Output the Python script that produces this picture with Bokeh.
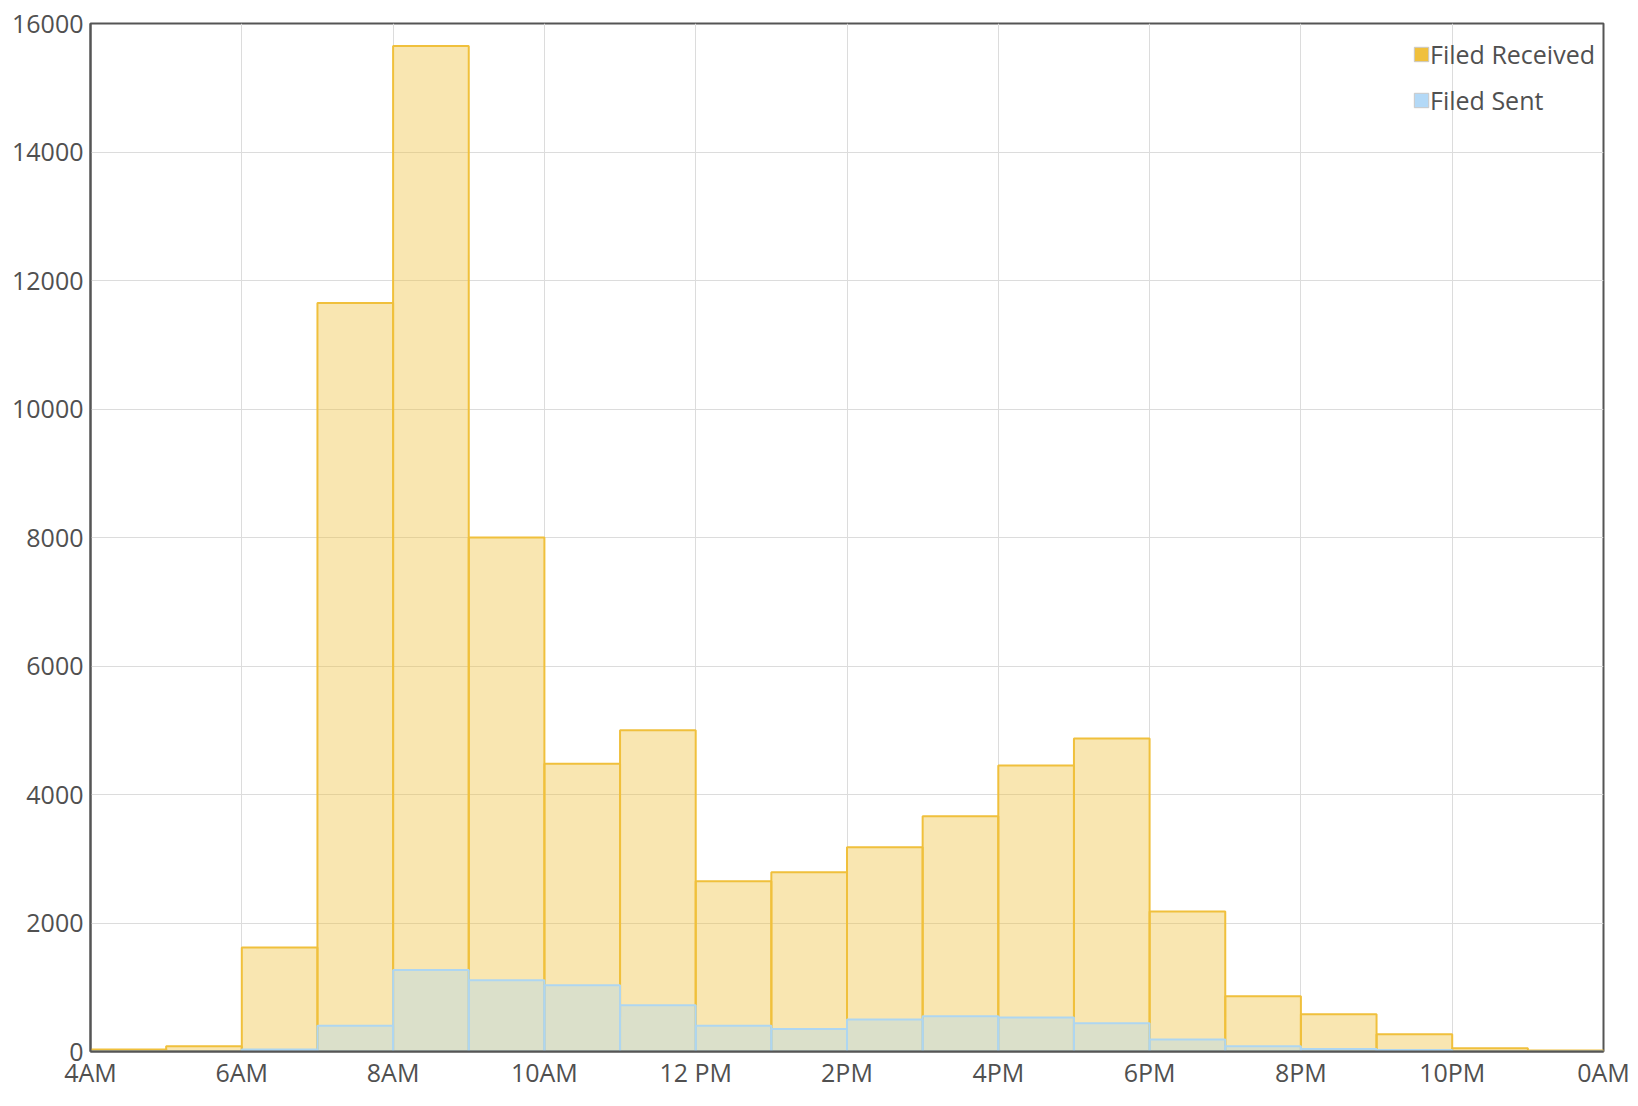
from bokeh.plotting import figure
from bokeh.models import ColumnDataSource, FixedTicker, Legend, LegendItem, Range1d
from bokeh.embed import file_html
from bokeh.resources import INLINE

# hour-of-day bins (start hour, 4 = 4AM ... 23 = 11PM)
hours = [4, 5, 6, 7, 8, 9, 10, 11, 12, 13, 14, 15, 16, 17, 18, 19, 20, 21, 22, 23]
filed_received = [30, 80, 1620, 11650, 15650, 8000, 4480, 5000, 2650, 2790,
                  3180, 3660, 4450, 4870, 2180, 860, 580, 270, 50, 15]
filed_sent = [0, 0, 30, 400, 1270, 1110, 1030, 720, 400, 350,
              500, 550, 530, 440, 185, 80, 40, 25, 0, 0]

x_ticks = [4, 6, 8, 10, 12, 14, 16, 18, 20, 22, 24]
x_tick_labels = ["4AM", "6AM", "8AM", "10AM", "12 PM", "2PM", "4PM", "6PM", "8PM", "10PM", "0AM"]
y_ticks = [0, 2000, 4000, 6000, 8000, 10000, 12000, 14000, 16000]

FONT = "Open Sans"
TEXT = "#505050"
AXIS = "#555555"
GOLD = "#F0C03C"
BLUE = "#AED6F1"

src = ColumnDataSource(dict(
    left=hours,
    right=[h + 1 for h in hours],
    rec=filed_received,
    sent=filed_sent,
))

p = figure(
    frame_width=1513, frame_height=1028,
    min_border_left=90, min_border_top=23, min_border_right=30, min_border_bottom=50,
    x_range=Range1d(4, 24), y_range=Range1d(0, 16000),
    output_backend="svg", toolbar_location=None,
)
p.background_fill_color = "white"
p.border_fill_color = "white"
p.outline_line_color = AXIS
p.outline_line_width = 2

p.quad(left="left", right="right", bottom=0, top="rec", source=src,
       fill_color=GOLD, fill_alpha=0.4, line_color=GOLD, line_width=2)
p.quad(left="left", right="right", bottom=0, top="sent", source=src,
       fill_color=BLUE, fill_alpha=0.4, line_color=BLUE, line_width=2)

# legend swatch proxies (no drawable data, only their style is used by the legend)
nan = float("nan")
proxy = ColumnDataSource(dict(left=[nan], right=[nan], top=[nan], bottom=[nan]))
r_leg1 = p.quad(left="left", right="right", top="top", bottom="bottom", source=proxy,
                fill_color=GOLD, fill_alpha=1.0, line_color="#c8c8c8", line_width=1)
r_leg2 = p.quad(left="left", right="right", top="top", bottom="bottom", source=proxy,
                fill_color="#B3D9F7", fill_alpha=1.0, line_color="#c8c8c8", line_width=1)

legend = Legend(items=[
    LegendItem(label="Filed Received", renderers=[r_leg1]),
    LegendItem(label="Filed Sent", renderers=[r_leg2]),
])
legend.location = "top_right"
legend.margin = 8
legend.padding = 0
legend.spacing = 0
legend.glyph_width = 18
legend.glyph_height = 18
legend.label_height = 46
legend.label_standoff = 0
legend.label_text_font = FONT
legend.label_text_font_size = "25px"
legend.label_text_color = TEXT
legend.border_line_color = None
legend.background_fill_alpha = 0
p.add_layout(legend)

p.xaxis.ticker = FixedTicker(ticks=x_ticks)
p.xaxis.major_label_overrides = {t: l for t, l in zip(x_ticks, x_tick_labels)}
p.yaxis.ticker = FixedTicker(ticks=y_ticks)

for ax in (p.xaxis, p.yaxis):
    ax.axis_line_color = AXIS
    ax.axis_line_width = 2
    ax.major_tick_line_color = None
    ax.minor_tick_line_color = None
    ax.major_tick_out = 0
    ax.major_tick_in = 0
    ax.major_label_text_font = FONT
    ax.major_label_text_font_size = "25px"
    ax.major_label_text_color = TEXT
p.xaxis.major_label_standoff = 3
p.yaxis.major_label_standoff = 7

p.xgrid.ticker = FixedTicker(ticks=x_ticks)
p.ygrid.ticker = FixedTicker(ticks=y_ticks)
p.grid.grid_line_color = "#dcdcdc"
p.grid.grid_line_width = 1

open("out.html", "w").write(file_html(p, INLINE))
